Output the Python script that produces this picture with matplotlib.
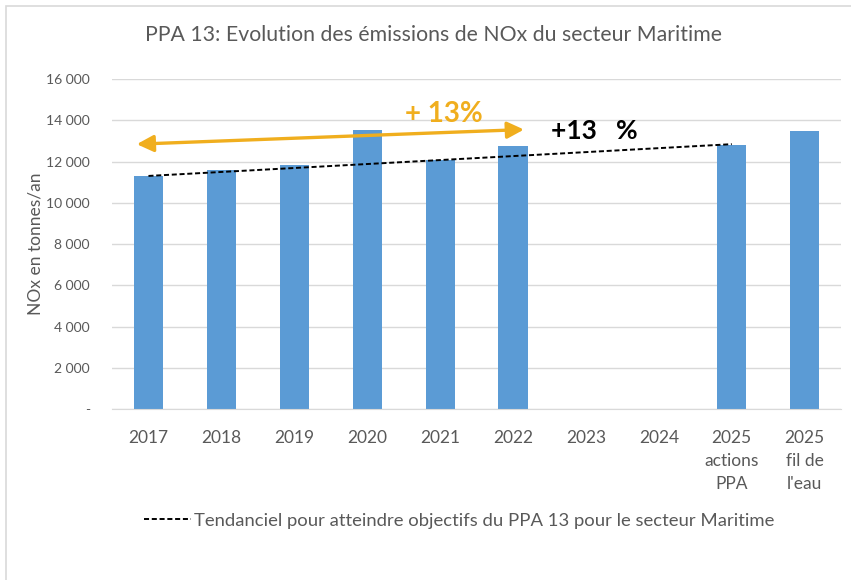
import matplotlib
matplotlib.use("Agg")
import matplotlib.pyplot as plt
import numpy as np
from matplotlib.patches import Rectangle
from matplotlib.ticker import FuncFormatter

plt.rcParams['font.family'] = ['Lato', 'DejaVu Sans']

# data
categories = ['2017', '2018', '2019', '2020', '2021', '2022', '2023', '2024',
              '2025\nactions\nPPA', '2025\nfil de\nl\'eau']
emissions = [11310, 11610, 11840, 13550, 12050, 12760, np.nan, np.nan, 12810, 13480]
trend_x = [0, 8]
trend_y = [11300, 12840]
arrow_x = [-0.16, 5.15]
arrow_y = [12840, 13550]
yticks = [0, 2000, 4000, 6000, 8000, 10000, 12000, 14000, 16000]

grey = '#595959'
bar_color = '#5B9BD5'
orange = '#F0AE1E'

fig = plt.figure(figsize=(8.51, 5.80), dpi=100)
ax = fig.add_axes([0.1316, 0.2948, 0.8568, 0.569])

x = np.arange(len(categories))
ax.bar(x, emissions, width=0.4, color=bar_color, zorder=2)
ax.plot(trend_x, trend_y, color='black', lw=1.4, ls=(0, (2.6, 1.4)), zorder=3,
        label='Tendanciel pour atteindre objectifs du PPA 13 pour le secteur Maritime')

ax.set_xlim(-0.5, len(categories) - 0.5)
ax.set_ylim(0, 16000)
ax.set_yticks(yticks)
ax.yaxis.set_major_formatter(FuncFormatter(
    lambda v, p: '-' if v == 0 else f'{int(v):,}'.replace(',', ' ')))
ax.set_xticks(x)
ax.set_xticklabels(categories, fontsize=12.5, color=grey, linespacing=1.55, va='top')
ax.tick_params(axis='y', length=0, labelsize=10, labelcolor=grey, pad=16)
ax.tick_params(axis='x', length=0, pad=15)
ax.grid(axis='y', color='#D9D9D9', lw=1, zorder=0)
for s in ['top', 'right', 'left']:
    ax.spines[s].set_visible(False)
ax.spines['bottom'].set_color('#D9D9D9')
ax.set_ylabel('NOx en tonnes/an', fontsize=12.5, color=grey, labelpad=2)

ax.annotate('', xy=(arrow_x[1], arrow_y[1]), xytext=(arrow_x[0], arrow_y[0]),
            arrowprops=dict(arrowstyle='<|-|>,head_length=1.0,head_width=0.5',
                            color=orange, lw=2.4, shrinkA=0, shrinkB=0), zorder=4)
ax.text(4.05, 14290, '+ 13%', color=orange, fontsize=20,
        fontweight='bold', ha='center', va='center')
ax.text(6.12, 13500, '+13   %', color='black', fontsize=19,
        fontweight='bold', ha='center', va='center')

fig.text(0.509, 1 - 35 / 580, 'PPA 13: Evolution des émissions de NOx du secteur Maritime',
         ha='center', va='center', fontsize=15.3, color=grey)

leg = fig.legend(loc='center', bbox_to_anchor=(0.54, 0.102), frameon=False,
                 fontsize=13.3, handlelength=2.5, handletextpad=0.2)
for t in leg.get_texts():
    t.set_color(grey)

fig.add_artist(Rectangle((5.5 / 851, -0.05), 1.1, 1 - 5.5 / 580 + 0.05,
                         transform=fig.transFigure, fill=False,
                         edgecolor='#D9D9D9', lw=1.2))

fig.savefig('out.png', dpi=100)
